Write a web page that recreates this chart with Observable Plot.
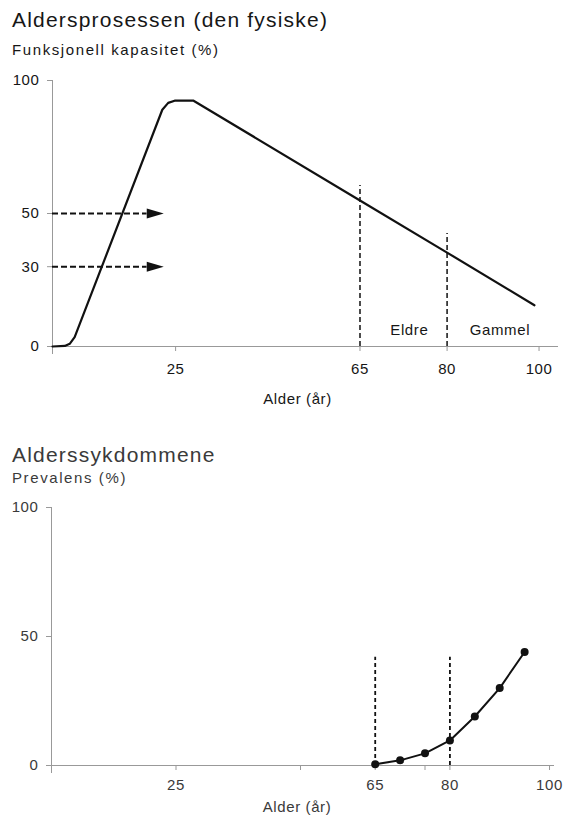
<!DOCTYPE html>
<html><head><meta charset="utf-8">
<script src="https://cdn.jsdelivr.net/npm/d3@7"></script>
<script src="https://cdn.jsdelivr.net/npm/@observablehq/plot@0.6"></script>
<style>
body{margin:0;background:#fff;font-family:"Liberation Sans",Arial,sans-serif;}
#wrap{position:relative;width:563px;height:818px;overflow:hidden;}
.t{position:absolute;left:12px;white-space:nowrap;}
.title{font-size:21px;line-height:24px;letter-spacing:1.2px;}
.sub{font-size:15px;line-height:18px;letter-spacing:1.6px;}
.c1{color:#161616;} .c2{color:#3a3a3a;}
.svgbox{position:absolute;left:0;}
</style></head><body>
<div id="wrap">
  <div class="t title c1" style="top:8px">Aldersprosessen (den fysiske)</div>
  <div class="t sub c1" style="top:41px">Funksjonell kapasitet (%)</div>
  <div class="svgbox" id="chart1" style="top:60px"></div>
  <div class="t title c2" style="top:443px">Alderssykdommene</div>
  <div class="t sub c2" style="top:469px">Prevalens (%)</div>
  <div class="svgbox" id="chart2" style="top:487px"></div>
</div>
<script>
// ---- Chart 1: functional capacity by age ----
const capacityAge   = [0, 2.5, 3.5, 4.5, 22.3, 23.5, 24.8, 28.9, 65, 80, 99];
const capacityValue = [0, 0.2, 1, 3.5, 89, 91.6, 92.4, 92.4, 54.9, 35.3, 15.5];
const arrowLevels = [50, 30];
const arrowStartAge = 0;
const arrowTipAge = 22.6;
const ageMarkers1 = [65, 80];
const ageMarkerTops1 = [60.5, 42.5];
const groupLabels = ["Eldre", "Gammel"];
const groupLabelAge = [73.5, 91.5];
const groupLabelValue = [6, 6];
const xTicks1 = [25, 65, 80, 100];
const yTicks1 = [0, 30, 50, 100];
// the printed age axis is not evenly spaced: where each labelled age sits (0–100 of axis length)
const axisAges1 = [0, 25, 65, 80, 100];
const axisSpots1 = [0, 25.3, 63.2, 81.1, 100];

// ---- Chart 2: prevalence of age diseases ----
const prevalenceAge   = [65, 70, 75, 80, 85, 90, 95];
const prevalenceValue = [0.5, 2, 4.7, 9.7, 19, 30, 44];
const ageMarkers2 = [65, 80];
const ageMarkerTops2 = [42, 42];
const xTicks2 = [25, 50, 65, 75, 80, 100];
const xLabels2 = [25, 65, 80, 100];
const yTicks2 = [0, 50, 100];

const font = "Liberation Sans, Arial, sans-serif";
const arrowHead = {
  draw(ctx) { ctx.moveTo(0, 0); ctx.lineTo(-17, -5); ctx.lineTo(-17, 5); ctx.closePath(); }
};
const warp1 = d3.scaleLinear().domain(axisAges1).range(axisSpots1);

const capacity = capacityAge.map((a, i) => ({age: a, value: capacityValue[i]}));
const arrows = arrowLevels.map(v => ({level: v, from: arrowStartAge, to: arrowTipAge - 3.4, tip: arrowTipAge}));
const markers1 = ageMarkers1.map((a, i) => ({age: a, top: ageMarkerTops1[i]}));
const labels1 = groupLabels.map((t, i) => ({text: t, age: groupLabelAge[i], value: groupLabelValue[i]}));

const chart1 = Plot.plot({
  width: 563, height: 360,
  marginLeft: 52, marginRight: 5, marginTop: 20, marginBottom: 74,
  style: {fontFamily: font, fontSize: "15px", color: "#161616", background: "transparent", overflow: "visible", letterSpacing: "0.6px"},
  x: {transform: d => warp1(d), domain: [0, 104]},
  y: {domain: [0, 100]},
  marks: [
    Plot.ruleX([0], {stroke: "#999", strokeWidth: 1, insetBottom: -8}),
    Plot.ruleY([0], {stroke: "#999", strokeWidth: 1}),
    Plot.axisY(yTicks1, {tickSize: 5, tickPadding: 8, stroke: "#999", fill: "#161616", label: null}),
    Plot.axisX(xTicks1, {tickSize: 5, tickPadding: 12, stroke: "#999", fill: "#161616", label: null, tickFormat: d => String(d)}),
    Plot.text(["Alder (år)"], {frameAnchor: "bottom", dy: 57, dx: -8, fill: "#161616", fontSize: 15, text: d => d}),
    Plot.ruleX(markers1, {x: "age", y1: 0, y2: "top", stroke: "#111", strokeWidth: 1.5, strokeDasharray: "5,3"}),
    Plot.ruleY(arrows, {y: "level", x1: "from", x2: "to", stroke: "#111", strokeWidth: 2, strokeDasharray: "6,3"}),
    Plot.dot(arrows, {x: "tip", y: "level", symbol: arrowHead, fill: "#111", stroke: "none", r: 5}),
    Plot.line(capacity, {x: "age", y: "value", stroke: "#111", strokeWidth: 2.2, strokeLinejoin: "round"}),
    Plot.text(labels1, {x: "age", y: "value", text: "text", fill: "#161616", fontSize: 15})
  ]
});
document.getElementById("chart1").appendChild(chart1);

const prevalence = prevalenceAge.map((a, i) => ({age: a, value: prevalenceValue[i]}));
const markers2 = ageMarkers2.map((a, i) => ({age: a, top: ageMarkerTops2[i]}));

const chart2 = Plot.plot({
  width: 563, height: 331,
  marginLeft: 51, marginRight: 9, marginTop: 20, marginBottom: 53,
  style: {fontFamily: font, fontSize: "15px", color: "#3a3a3a", background: "transparent", overflow: "visible", letterSpacing: "0.6px"},
  x: {domain: [0, 101]},
  y: {domain: [0, 100]},
  marks: [
    Plot.ruleX([0], {stroke: "#999", strokeWidth: 1, insetBottom: -8}),
    Plot.ruleY([0], {stroke: "#999", strokeWidth: 1}),
    Plot.axisY(yTicks2, {tickSize: 5, tickPadding: 8, stroke: "#999", fill: "#3a3a3a", label: null}),
    Plot.axisX(xTicks2, {tickSize: 5, tickPadding: 9, stroke: "#999", fill: "#3a3a3a", label: null,
      tickFormat: d => xLabels2.includes(d) ? String(d) : ""}),
    Plot.text(["Alder (år)"], {frameAnchor: "bottom", dy: 46, dx: -6, fill: "#3a3a3a", fontSize: 15, text: d => d}),
    Plot.ruleX(markers2, {x: "age", y1: 0, y2: "top", stroke: "#111", strokeWidth: 1.8, strokeDasharray: "4,3"}),
    Plot.line(prevalence, {x: "age", y: "value", stroke: "#111", strokeWidth: 2}),
    Plot.dot(prevalence, {x: "age", y: "value", fill: "#111", r: 4})
  ]
});
document.getElementById("chart2").appendChild(chart2);
</script>
</body></html>
